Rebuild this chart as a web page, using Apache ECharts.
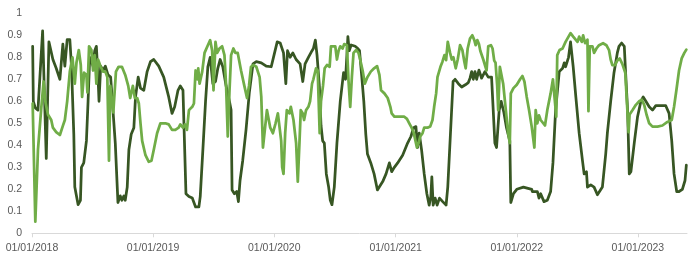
<!DOCTYPE html>
<html><head><meta charset="utf-8">
<script src="https://cdn.jsdelivr.net/npm/echarts@6/dist/echarts.min.js"></script>
<style>html,body{margin:0;padding:0;background:#fff}#c{width:700px;height:262px}</style>
</head><body><div id="c"></div>
<script>
// x values: days since 01/01/2018
const startYear = 2018;
const endDay = 1974;
const yearTicks = ['01/01/2018','01/01/2019','01/01/2020','01/01/2021','01/01/2022','01/01/2023'];
const yTicks = [0,0.1,0.2,0.3,0.4,0.5,0.6,0.7,0.8,0.9,1];

const darkDays = [
2,4,10,18,32,43,51,63,73,84,
93,99,106,114,119,126,129,139,146,149,
156,164,169,174,179,184,189,194,199,202,
207,214,221,229,237,241,251,259,266,271,
277,281,287,292,299,307,312,320,327,337,
347,357,367,382,397,412,422,430,440,447,
455,464,473,483,493,503,507,515,523,530,
537,545,553,560,567,575,585,595,600,603,
610,617,622,627,635,645,655,666,676,691,
706,721,731,739,748,758,765,770,778,786,
796,808,816,823,833,844,848,854,859,866,
871,876,881,887,894,899,904,911,919,929,
939,945,952,956,962,974,982,987,994,1000,
1006,1011,1021,1031,1041,1047,1057,1067,1077,1084,
1092,1102,1117,1132,1142,1150,1157,1162,1167,1174,
1182,1190,1197,1202,1205,1209,1215,1221,1228,1237,
1248,1253,1261,1269,1275,1285,1295,1306,1315,1320,
1325,1330,1335,1340,1347,1355,1365,1375,1385,1390,
1395,1400,1408,1414,1422,1430,1440,1443,1451,1461,
1481,1506,1508,1523,1528,1533,1543,1553,1563,1570,
1578,1589,1599,1604,1608,1617,1623,1631,1639,1649,
1659,1664,1671,1674,1684,1694,1704,1709,1719,1729,
1734,1744,1754,1764,1769,1777,1785,1789,1795,1800,
1805,1815,1825,1835,1842,1850,1860,1870,1880,1895,
1910,1920,1928,1935,1943,1950,1960,1968,1972
];
const darkValues = [
0.85,0.60,0.57,0.56,0.92,0.34,0.87,0.79,0.75,0.70,
0.86,0.76,0.88,0.88,0.76,0.45,0.21,0.13,0.15,0.30,
0.32,0.42,0.60,0.80,0.78,0.76,0.83,0.85,0.71,0.60,
0.76,0.74,0.76,0.72,0.71,0.71,0.41,0.14,0.17,0.15,
0.17,0.15,0.21,0.38,0.45,0.48,0.62,0.71,0.66,0.65,
0.735,0.78,0.79,0.76,0.71,0.62,0.545,0.575,0.65,0.67,
0.65,0.18,0.167,0.16,0.12,0.12,0.167,0.38,0.60,0.757,
0.80,0.68,0.69,0.75,0.79,0.757,0.67,0.60,0.56,0.197,
0.18,0.19,0.144,0.24,0.33,0.47,0.64,0.77,0.78,0.775,
0.76,0.757,0.82,0.87,0.865,0.82,0.68,0.83,0.80,0.82,
0.79,0.77,0.69,0.77,0.80,0.83,0.84,0.878,0.81,0.67,
0.49,0.42,0.41,0.27,0.21,0.15,0.13,0.21,0.41,0.60,
0.73,0.70,0.894,0.83,0.856,0.85,0.84,0.83,0.71,0.60,
0.45,0.36,0.32,0.27,0.197,0.20,0.235,0.27,0.32,0.28,
0.30,0.32,0.355,0.41,0.44,0.48,0.485,0.39,0.455,0.38,
0.27,0.18,0.128,0.167,0.257,0.128,0.16,0.128,0.16,0.145,
0.128,0.21,0.45,0.69,0.70,0.68,0.665,0.675,0.685,0.705,
0.735,0.70,0.735,0.70,0.742,0.705,0.735,0.71,0.71,0.705,
0.41,0.39,0.56,0.60,0.55,0.48,0.42,0.14,0.18,0.20,
0.21,0.20,0.19,0.19,0.16,0.18,0.144,0.15,0.19,0.32,
0.56,0.735,0.75,0.775,0.757,0.80,0.87,0.757,0.62,0.455,
0.33,0.27,0.28,0.21,0.22,0.21,0.175,0.175,0.21,0.36,
0.455,0.60,0.73,0.82,0.85,0.865,0.85,0.73,0.56,0.27,
0.28,0.41,0.53,0.60,0.62,0.60,0.575,0.56,0.58,0.58,
0.58,0.545,0.42,0.27,0.19,0.19,0.20,0.24,0.31
];

const lightDays = [
2,10,18,28,35,40,48,58,63,73,
84,93,99,106,114,122,129,134,141,147,
151,157,164,167,172,179,184,189,194,199,
207,214,221,227,232,236,245,253,261,271,
281,290,296,304,310,317,322,327,332,342,
352,360,367,377,387,402,412,422,432,442,
447,455,461,467,473,483,488,493,498,501,
505,513,520,530,537,543,547,553,558,565,
573,580,585,590,595,600,607,613,620,630,
640,648,654,660,667,676,686,691,696,701,
708,714,718,726,734,741,746,751,754,758,
763,768,776,780,788,796,801,806,810,816,
820,826,833,838,844,848,856,861,867,871,
877,882,889,897,901,907,914,919,924,929,
936,941,949,954,959,964,969,977,984,989,
997,1003,1011,1021,1031,1040,1047,1052,1062,1072,
1080,1084,1092,1102,1112,1122,1130,1137,1144,1150,
1155,1160,1165,1170,1177,1182,1192,1200,1207,1212,
1218,1222,1231,1237,1243,1248,1253,1256,1260,1265,
1270,1277,1283,1290,1297,1303,1307,1313,1320,1327,
1333,1337,1342,1347,1351,1355,1360,1365,1370,1375,
1383,1388,1393,1397,1402,1405,1410,1415,1420,1427,
1435,1440,1443,1451,1461,1471,1478,1484,1491,1498,
1506,1514,1518,1523,1528,1533,1538,1546,1553,1563,
1570,1576,1580,1583,1590,1599,1608,1617,1623,1631,
1637,1644,1649,1657,1661,1667,1674,1677,1681,1689,
1694,1701,1709,1721,1731,1739,1744,1749,1757,1764,
1771,1779,1788,1792,1798,1801,1810,1820,1830,1838,
1845,1852,1860,1870,1885,1900,1915,1928,1935,1942,
1950,1958,1966,1972
];
const lightValues = [
0.59,0.053,0.38,0.57,0.69,0.60,0.54,0.515,0.48,0.46,
0.447,0.488,0.515,0.60,0.735,0.80,0.68,0.775,0.833,0.765,
0.62,0.73,0.72,0.64,0.85,0.833,0.74,0.81,0.68,0.79,
0.757,0.735,0.735,0.71,0.33,0.67,0.55,0.735,0.757,0.757,
0.72,0.67,0.615,0.67,0.615,0.615,0.59,0.50,0.42,0.355,
0.325,0.33,0.38,0.455,0.50,0.50,0.495,0.47,0.47,0.48,
0.495,0.48,0.495,0.47,0.56,0.575,0.59,0.74,0.70,0.75,
0.68,0.735,0.82,0.855,0.878,0.83,0.65,0.87,0.82,0.84,
0.85,0.81,0.67,0.44,0.64,0.81,0.84,0.82,0.82,0.74,
0.67,0.615,0.67,0.757,0.765,0.757,0.71,0.62,0.39,0.46,
0.56,0.555,0.48,0.455,0.50,0.545,0.545,0.42,0.30,0.27,
0.455,0.56,0.545,0.575,0.515,0.41,0.235,0.41,0.56,0.545,
0.515,0.56,0.575,0.60,0.68,0.70,0.75,0.74,0.455,0.60,
0.67,0.75,0.765,0.757,0.85,0.855,0.85,0.79,0.83,0.85,
0.84,0.86,0.855,0.69,0.575,0.71,0.82,0.833,0.82,0.79,
0.735,0.68,0.71,0.735,0.75,0.76,0.72,0.65,0.636,0.615,
0.575,0.545,0.53,0.53,0.53,0.53,0.52,0.50,0.48,0.46,
0.455,0.39,0.41,0.44,0.455,0.48,0.48,0.485,0.515,0.575,
0.636,0.71,0.757,0.78,0.81,0.787,0.87,0.878,0.82,0.79,
0.80,0.75,0.79,0.855,0.833,0.78,0.75,0.84,0.885,0.90,
0.878,0.855,0.878,0.86,0.83,0.825,0.79,0.785,0.74,0.85,
0.855,0.84,0.785,0.775,0.67,0.56,0.757,0.75,0.68,0.575,
0.455,0.41,0.636,0.66,0.675,0.70,0.715,0.69,0.62,0.56,
0.485,0.39,0.56,0.50,0.536,0.515,0.52,0.49,0.56,0.636,
0.70,0.70,0.53,0.81,0.833,0.84,0.87,0.894,0.91,0.894,
0.90,0.87,0.894,0.87,0.90,0.864,0.88,0.555,0.85,0.85,
0.82,0.84,0.855,0.864,0.855,0.833,0.79,0.765,0.765,0.785,
0.795,0.77,0.73,0.62,0.46,0.54,0.56,0.584,0.60,0.607,
0.584,0.54,0.50,0.485,0.485,0.49,0.506,0.515,0.575,0.65,
0.74,0.795,0.82,0.835
];

function dayToTime(d){ return new Date(startYear, 0, 1 + d).getTime(); }
function parseTick(s){ const p = s.split('/'); return new Date(+p[2], +p[1]-1, +p[0]).getTime(); }
function pad(n){ return (n<10?'0':'')+n; }
function zip(days, vals){ return days.map((d,i)=>[dayToTime(d), vals[i]]); }

const tickTimes = yearTicks.map(parseTick);
const chart = echarts.init(document.getElementById('c'), null, {renderer:'canvas'});
const labelFont = {color:'#595959', fontSize:10.5, fontFamily:'Liberation Sans, Arial, sans-serif'};
chart.setOption({
  animation:false,
  backgroundColor:'#fff',
  grid:{left:32, right:13, top:13.3, bottom:28.7, containLabel:false},
  xAxis:{
    type:'value',
    min: dayToTime(0),
    max: dayToTime(endDay),
    axisLine:{show:true, lineStyle:{color:'#d9d9d9', width:1}},
    axisTick:{show:true, length:4, lineStyle:{color:'#d9d9d9'}, customValues: tickTimes},
    axisLabel:Object.assign({margin:9, customValues: tickTimes, showMinLabel:true, showMaxLabel:true,
      formatter: v => { const d = new Date(v); return pad(d.getDate())+'/'+pad(d.getMonth()+1)+'/'+d.getFullYear(); }}, labelFont),
    splitLine:{show:false}
  },
  yAxis:{
    type:'value', min:0, max:1, interval:0.1,
    axisLine:{show:false}, axisTick:{show:false}, splitLine:{show:false},
    axisLabel:Object.assign({margin:10, formatter: v => String(Math.round(v*10)/10)}, labelFont)
  },
  series:[
    {type:'line', name:'dark', data: zip(darkDays, darkValues), showSymbol:false, symbol:'none',
     lineStyle:{color:'#375623', width:2.75, join:'round', cap:'round'}, itemStyle:{color:'#375623'}},
    {type:'line', name:'light', data: zip(lightDays, lightValues), showSymbol:false, symbol:'none',
     lineStyle:{color:'#70AD47', width:2.75, join:'round', cap:'round'}, itemStyle:{color:'#70AD47'}}
  ]
});
</script>
</body></html>
